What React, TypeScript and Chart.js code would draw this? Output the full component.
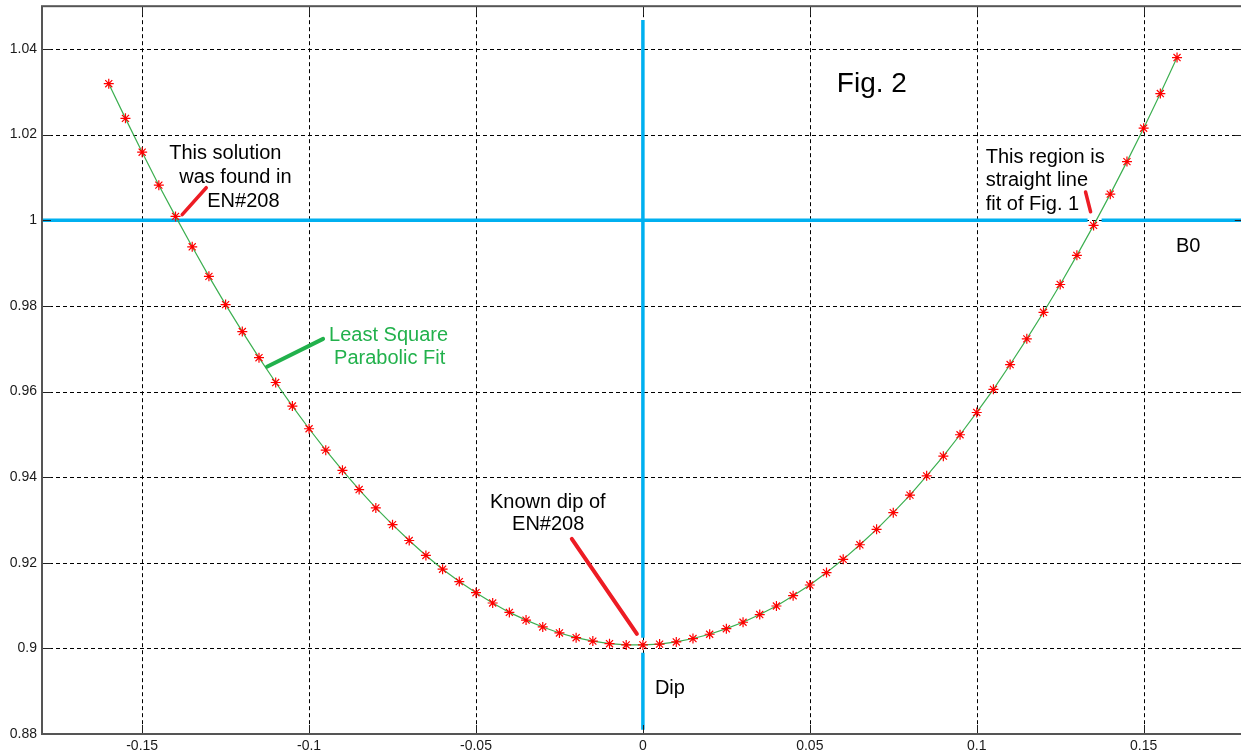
import React, { useEffect, useRef } from 'react';
import { Chart, registerables } from 'chart.js';

Chart.register(...registerables);

// ---- data ----
const X_VALUES = [
  -0.16, -0.155, -0.15, -0.145, -0.14, -0.135, -0.13, -0.125, -0.12, -0.115, -0.11, -0.105,
  -0.1, -0.095, -0.09, -0.085, -0.08, -0.075, -0.07, -0.065, -0.06, -0.055, -0.05, -0.045,
  -0.04, -0.035, -0.03, -0.025, -0.02, -0.015, -0.01, -0.005, 0, 0.005, 0.01, 0.015, 0.02,
  0.025, 0.03, 0.035, 0.04, 0.045, 0.05, 0.055, 0.06, 0.065, 0.07, 0.075, 0.08, 0.085, 0.09,
  0.095, 0.1, 0.105, 0.11, 0.115, 0.12, 0.125, 0.13, 0.135, 0.14, 0.145, 0.15, 0.155, 0.16,
];
const Y_VALUES = [
  1.0319, 1.0238, 1.0159, 1.0082, 1.0009, 0.9938, 0.9869, 0.9803, 0.974, 0.9679, 0.9621, 0.9566,
  0.9513, 0.9463, 0.9416, 0.9371, 0.9328, 0.9289, 0.9252, 0.9217, 0.9185, 0.9156, 0.913, 0.9106,
  0.9084, 0.9066, 0.905, 0.9036, 0.9025, 0.9017, 0.9011, 0.9008, 0.9008, 0.901, 0.9015, 0.9023,
  0.9033, 0.9046, 0.9061, 0.9079, 0.9099, 0.9123, 0.9148, 0.9177, 0.9208, 0.9242, 0.9278, 0.9317,
  0.9358, 0.9403, 0.9449, 0.9499, 0.9551, 0.9605, 0.9663, 0.9723, 0.9785, 0.985, 0.9918, 0.9988,
  1.0061, 1.0137, 1.0215, 1.0296, 1.038,
];

const X_TICKS = [-0.15, -0.1, -0.05, 0, 0.05, 0.1, 0.15];
const X_TICK_LABELS = ['-0.15', '-0.1', '-0.05', '0', '0.05', '0.1', '0.15'];
const Y_TICKS = [0.88, 0.9, 0.92, 0.94, 0.96, 0.98, 1, 1.02, 1.04];
const Y_TICK_LABELS = ['0.88', '0.9', '0.92', '0.94', '0.96', '0.98', '1', '1.02', '1.04'];

const X_MIN = -0.18;
const X_MAX = 0.18;
const Y_MIN = 0.88;
const Y_MAX = 1.05;

// B0 horizontal reference line (value 1) and Dip vertical line (x = 0)
const B0_VALUE = 1;
const B0_X = [-0.18, 0.1332, null, 0.1374, 0.18];
const DIP_VALUE = 0;
const DIP_Y = [1.0468, 0.9025, null, 0.899, 0.881];

// ---- annotations (data coordinates) ----
const RED = 'rgb(237,28,36)';
const GREEN = 'rgb(34,177,76)';
const TEXT_FONT = '"Liberation Sans", Arial, sans-serif';

const ANNOT_TEXTS = [
  { text: 'Fig. 2', x: 0.0581, y: 1.03, size: 28, color: '#000' },
  { text: 'This solution', x: -0.1419, y: 1.0142, size: 20, color: '#000' },
  { text: 'was found in', x: -0.1389, y: 1.0087, size: 20, color: '#000' },
  { text: 'EN#208', x: -0.1305, y: 1.0032, size: 20, color: '#000' },
  { text: 'Least Square', x: -0.094, y: 0.9718, size: 20, color: GREEN },
  { text: 'Parabolic Fit', x: -0.0925, y: 0.9664, size: 20, color: GREEN },
  { text: 'This region is', x: 0.1027, y: 1.0133, size: 20, color: '#000' },
  { text: 'straight line', x: 0.1027, y: 1.008, size: 20, color: '#000' },
  { text: 'fit of Fig. 1', x: 0.1027, y: 1.0023, size: 20, color: '#000' },
  { text: 'B0', x: 0.1597, y: 0.9925, size: 20, color: '#000' },
  { text: 'Known dip of', x: -0.0458, y: 0.9327, size: 20, color: '#000' },
  { text: 'EN#208', x: -0.0392, y: 0.9277, size: 20, color: '#000' },
  { text: 'Dip', x: 0.0036, y: 0.8893, size: 20, color: '#000' },
];

const ANNOT_LINES = [
  { x1: -0.138, y1: 1.0013, x2: -0.1308, y2: 1.0076, color: RED, width: 3.5 },
  { x1: -0.1126, y1: 0.9658, x2: -0.0958, y2: 0.9723, color: GREEN, width: 4 },
  { x1: 0.1326, y1: 1.0066, x2: 0.1341, y2: 1.002, color: RED, width: 3.5 },
  { x1: -0.0213, y1: 0.9256, x2: -0.0018, y2: 0.9034, color: RED, width: 4 },
];

const framePlugin = {
  id: 'matlabFrame',
  beforeDatasetsDraw(chart: any) {
    const { ctx, chartArea: a, scales } = chart;
    const xs = scales.x;
    const ys = scales.y;
    ctx.save();
    ctx.strokeStyle = '#000';
    ctx.lineWidth = 1;
    ctx.setLineDash([4, 3]);
    X_TICKS.forEach((v) => {
      const px = Math.round(xs.getPixelForValue(v)) + 0.5;
      ctx.beginPath();
      ctx.moveTo(px, a.top);
      ctx.lineTo(px, a.bottom);
      ctx.stroke();
    });
    Y_TICKS.forEach((v) => {
      const py = Math.round(ys.getPixelForValue(v)) + 0.5;
      ctx.beginPath();
      ctx.moveTo(a.left, py);
      ctx.lineTo(a.right, py);
      ctx.stroke();
    });
    ctx.restore();
  },
  afterDraw(chart: any) {
    const { ctx, chartArea: a, scales } = chart;
    const xs = scales.x;
    const ys = scales.y;
    ctx.save();
    // inner tick marks
    ctx.strokeStyle = '#222';
    ctx.lineWidth = 1;
    ctx.setLineDash([]);
    X_TICKS.forEach((v) => {
      const px = Math.round(xs.getPixelForValue(v)) + 0.5;
      ctx.beginPath();
      ctx.moveTo(px, a.bottom);
      ctx.lineTo(px, a.bottom - 9);
      ctx.moveTo(px, a.top);
      ctx.lineTo(px, a.top + 9);
      ctx.stroke();
    });
    Y_TICKS.forEach((v) => {
      const py = Math.round(ys.getPixelForValue(v)) + 0.5;
      ctx.beginPath();
      ctx.moveTo(a.left, py);
      ctx.lineTo(a.left + 9, py);
      ctx.moveTo(a.right, py);
      ctx.lineTo(a.right - 9, py);
      ctx.stroke();
    });
    // frame
    ctx.strokeStyle = '#555';
    ctx.lineWidth = 2;
    ctx.strokeRect(a.left, a.top, a.right - a.left, a.bottom - a.top);

    // annotation lines
    ctx.lineCap = 'round';
    ANNOT_LINES.forEach((l) => {
      ctx.strokeStyle = l.color;
      ctx.lineWidth = l.width;
      ctx.beginPath();
      ctx.moveTo(xs.getPixelForValue(l.x1), ys.getPixelForValue(l.y1));
      ctx.lineTo(xs.getPixelForValue(l.x2), ys.getPixelForValue(l.y2));
      ctx.stroke();
    });
    // annotation texts
    ctx.textAlign = 'left';
    ctx.textBaseline = 'alphabetic';
    ANNOT_TEXTS.forEach((t) => {
      ctx.font = `${t.size}px ${TEXT_FONT}`;
      ctx.fillStyle = t.color;
      ctx.fillText(t.text, xs.getPixelForValue(t.x), ys.getPixelForValue(t.y));
    });
    ctx.restore();
  },
};

export default function App() {
  const canvasRef = useRef<HTMLCanvasElement | null>(null);

  useEffect(() => {
    const canvas = canvasRef.current;
    if (!canvas) return;
    const points = X_VALUES.map((x, i) => ({ x, y: Y_VALUES[i] }));
    const b0 = B0_X.map((x) => (x === null ? { x: 0.135, y: null } : { x, y: B0_VALUE }));
    const dip = DIP_Y.map((y) => ({ x: DIP_VALUE, y }));

    const chart = new Chart(canvas, {
      type: 'scatter',
      data: {
        datasets: [
          {
            label: 'data',
            data: points,
            showLine: false,
            pointStyle: 'star',
            pointRadius: 5,
            pointBorderWidth: 1.2,
            pointBorderColor: '#ff0000',
            pointBackgroundColor: '#ff0000',
            order: 0,
          } as any,
          {
            label: 'fit',
            data: points,
            showLine: true,
            borderColor: 'rgb(60,175,80)',
            borderWidth: 1.2,
            pointRadius: 0,
            tension: 0,
            order: 1,
          } as any,
          {
            label: 'B0',
            data: b0,
            showLine: true,
            spanGaps: false,
            borderColor: 'rgb(0,176,240)',
            borderWidth: 3.5,
            pointRadius: 0,
            order: 2,
          } as any,
          {
            label: 'Dip',
            data: dip,
            showLine: true,
            spanGaps: false,
            borderColor: 'rgb(0,176,240)',
            borderWidth: 3.5,
            pointRadius: 0,
            order: 3,
          } as any,
        ],
      },
      options: {
        animation: false,
        responsive: false,
        devicePixelRatio: 1,
        layout: { padding: { left: 0, right: 6, top: 5, bottom: 0 } },
        plugins: {
          legend: { display: false },
          tooltip: { enabled: false },
          title: { display: false },
        },
        scales: {
          x: {
            type: 'linear',
            min: X_MIN,
            max: X_MAX,
            grid: { display: false, drawTicks: false },
            border: { display: false },
            afterBuildTicks: (scale: any) => {
              scale.ticks = X_TICKS.map((v) => ({ value: v }));
            },
            afterFit: (scale: any) => {
              scale.height = 21;
              scale.paddingLeft = 0;
              scale.paddingRight = 0;
              scale.paddingTop = 0;
              scale.paddingBottom = 0;
            },
            ticks: {
              padding: 4,
              maxRotation: 0,
              autoSkip: false,
              color: '#1a1a1a',
              font: { family: TEXT_FONT, size: 14 },
              callback: (v: any) => {
                const i = X_TICKS.findIndex((t) => Math.abs(t - v) < 1e-9);
                return i >= 0 ? X_TICK_LABELS[i] : '';
              },
            },
          },
          y: {
            type: 'linear',
            min: Y_MIN,
            max: Y_MAX,
            grid: { display: false, drawTicks: false },
            border: { display: false },
            afterBuildTicks: (scale: any) => {
              scale.ticks = Y_TICKS.map((v) => ({ value: v }));
            },
            afterFit: (scale: any) => {
              scale.width = 42;
              scale.paddingLeft = 0;
              scale.paddingRight = 0;
              scale.paddingTop = 0;
              scale.paddingBottom = 0;
            },
            ticks: {
              padding: 5,
              autoSkip: false,
              color: '#1a1a1a',
              font: { family: TEXT_FONT, size: 14 },
              callback: (v: any) => {
                const i = Y_TICKS.findIndex((t) => Math.abs(t - v) < 1e-9);
                return i >= 0 ? Y_TICK_LABELS[i] : '';
              },
            },
          },
        },
      } as any,
      plugins: [framePlugin],
    });
    return () => chart.destroy();
  }, []);

  return (
    <div
      style={{
        position: 'absolute',
        left: 0,
        top: 0,
        width: 1241,
        height: 755,
        overflow: 'hidden',
        background: '#fff',
      }}
    >
      <canvas ref={canvasRef} width={1250} height={755} style={{ width: 1250, height: 755, display: 'block' }} />
    </div>
  );
}
